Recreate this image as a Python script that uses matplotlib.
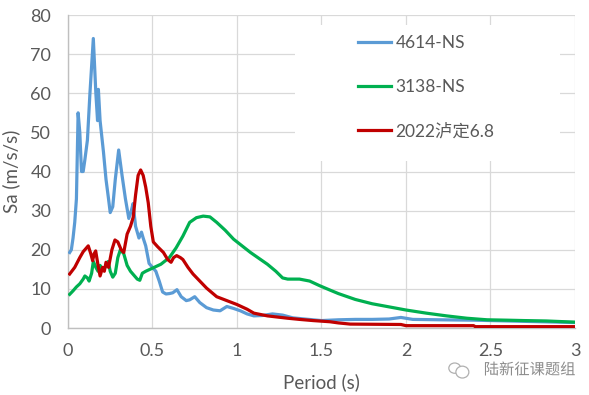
import matplotlib
matplotlib.use("Agg")
import matplotlib.pyplot as plt
import matplotlib.patheffects as pe
from matplotlib.patches import Rectangle, Ellipse

plt.rcParams['font.family'] = ['Lato', 'Noto Sans CJK SC', 'DejaVu Sans']

# 4614-NS
t_blue = [0.01, 0.02, 0.03, 0.04, 0.05, 0.06, 0.07, 0.08, 0.09, 0.10, 0.115, 0.13,
          0.15, 0.165, 0.175, 0.18, 0.19, 0.21, 0.225, 0.24, 0.25, 0.265, 0.28, 0.30,
          0.32, 0.34, 0.36, 0.375, 0.385, 0.40, 0.42, 0.435, 0.445, 0.46, 0.48, 0.50,
          0.52, 0.54, 0.56, 0.58, 0.60, 0.62, 0.645, 0.67, 0.70, 0.72, 0.75, 0.78,
          0.82, 0.86, 0.90, 0.94, 0.98, 1.02, 1.06, 1.10, 1.15, 1.21, 1.27, 1.33,
          1.40, 1.50, 1.60, 1.70, 1.80, 1.90, 1.97, 2.04, 2.20, 2.40, 2.60, 2.80, 3.00]
sa_blue = [19.3, 20, 23, 27, 33, 55, 50, 40, 40, 43, 48, 60,
           74, 60, 53, 61, 53, 45, 38, 33, 29.5, 31, 38, 45.5,
           39, 33, 28, 30, 31.8, 26, 23, 24.5, 23, 21, 16.5, 15.5,
           14.5, 12, 9.2, 8.7, 8.8, 9, 9.8, 8, 7, 7.2, 8, 6.5,
           5.2, 4.6, 4.4, 5.5, 5, 4.4, 3.6, 3.1, 3.2, 3.6, 3.3, 2.6,
           2.3, 1.9, 2.1, 2.2, 2.2, 2.3, 2.7, 2.2, 2.1, 2.0, 1.8, 1.6, 1.4]

# 3138-NS
t_green = [0.01, 0.03, 0.05, 0.07, 0.09, 0.10, 0.115, 0.125, 0.14, 0.15, 0.165, 0.178,
           0.19, 0.205, 0.22, 0.238, 0.25, 0.265, 0.28, 0.295, 0.31, 0.33, 0.35, 0.37,
           0.39, 0.41, 0.425, 0.44, 0.46, 0.50, 0.55, 0.60, 0.64, 0.68, 0.72, 0.76,
           0.80, 0.84, 0.88, 0.93, 0.98, 1.03, 1.08, 1.13, 1.18, 1.23, 1.27, 1.30,
           1.37, 1.43, 1.49, 1.55, 1.60, 1.70, 1.80, 1.90, 2.00, 2.12, 2.24, 2.36,
           2.48, 2.60, 2.70, 2.83, 3.00]
sa_green = [8.6, 9.5, 10.5, 11.3, 12.5, 13.3, 12.8, 12, 14, 17, 15.5, 14.5,
            16, 15, 15.5, 17, 14.5, 13, 14, 18, 20, 19, 16, 14.5,
            13.5, 12.5, 12.2, 14, 14.5, 15.3, 16.3, 18, 20.5, 23.5, 27, 28.2,
            28.6, 28.4, 27, 25, 22.7, 21, 19.3, 17.8, 16.3, 14.5, 12.8, 12.5,
            12.5, 12, 10.8, 9.7, 8.8, 7.3, 6.2, 5.4, 4.6, 3.8, 3.1, 2.5,
            2.1, 2.0, 1.9, 1.8, 1.5]

# 2022泸定6.8
t_red = [0.01, 0.04, 0.07, 0.09, 0.12, 0.135, 0.146, 0.155, 0.164, 0.18, 0.19, 0.205,
         0.215, 0.225, 0.24, 0.26, 0.278, 0.295, 0.315, 0.33, 0.35, 0.37, 0.386, 0.40,
         0.415, 0.43, 0.445, 0.46, 0.475, 0.49, 0.505, 0.53, 0.565, 0.59, 0.61, 0.625,
         0.643, 0.665, 0.68, 0.71, 0.74, 0.78, 0.82, 0.88, 0.94, 1.00, 1.06, 1.10,
         1.18, 1.30, 1.37, 1.45, 1.55, 1.60, 1.67, 1.97, 2.00, 2.40, 2.41, 3.00]
sa_red = [13.8, 15.5, 18, 19.5, 21, 19, 17.2, 19, 19.7, 15.5, 13.3, 15.5,
          14.5, 16.8, 15.5, 20, 22.5, 22, 20, 19.3, 24, 26, 28.3, 34,
          39, 40.4, 39, 36, 32, 26, 22, 20.8, 19.3, 17.5, 16.8, 18,
          18.5, 18, 17.5, 15.5, 13.8, 12, 10.2, 8, 7, 6, 4.8, 3.8,
          3.1, 2.5, 2.2, 1.9, 1.6, 1.3, 1.0, 0.9, 0.6, 0.6, 0.35, 0.35]

labels = ["4614-NS", "3138-NS", "2022泸定6.8"]
colors = ["#5b9bd5", "#00b050", "#c00000"]
x_ticks = [0, 0.5, 1, 1.5, 2, 2.5, 3]
x_tick_labels = ["0", "0.5", "1", "1.5", "2", "2.5", "3"]
y_ticks = [0, 10, 20, 30, 40, 50, 60, 70, 80]

fig = plt.figure(figsize=(5.89, 3.95), dpi=100)
ax = fig.add_axes([0.1154, 0.1696, 0.8608, 0.7924])

for t, sa, lab, col in zip([t_blue, t_green, t_red], [sa_blue, sa_green, sa_red], labels, colors):
    ax.plot(t, sa, color=col, lw=2.3, label=lab, zorder=3, solid_joinstyle='round')

ax.set_xlim(0, 3)
ax.set_ylim(0, 80)
ax.set_xticks(x_ticks)
ax.set_xticklabels(x_tick_labels)
ax.set_yticks(y_ticks)
ax.set_axisbelow(True)
ax.grid(True, color="#d9d9d9", lw=0.9)
ax.tick_params(length=0, labelsize=13, labelcolor="#595959")
ax.tick_params(axis="y", pad=12)
ax.tick_params(axis="x", pad=11)
for s in ["top", "right"]:
    ax.spines[s].set_visible(False)
for s in ["left", "bottom"]:
    ax.spines[s].set_color("#bfbfbf")
    ax.spines[s].set_linewidth(1.0)

ax.set_xlabel("Period (s)", fontsize=13.5, color="#595959")
ax.set_ylabel("Sa (m/s/s)", fontsize=13.5, color="#595959")
ax.xaxis.set_label_coords(0.5, -0.145)
ax.yaxis.set_label_coords(-0.095, 0.5)

# white legend area hiding the grid
ax.add_patch(Rectangle((0.448, 0.534), 0.522, 0.434, transform=ax.transAxes,
                       facecolor="white", edgecolor="none", zorder=1))
leg = ax.legend(loc="upper left", bbox_to_anchor=(0.572, 0.935), frameon=False,
                fontsize=12.5, handlelength=1.9, handletextpad=0.25,
                labelspacing=1.6, borderpad=0, borderaxespad=0)
for txt in leg.get_texts():
    txt.set_color("#595959")

# watermark with a small chat-bubble icon
fig.text(0.899, 0.063, "陆新征课题组", fontsize=11, color="#8c8c8c",
         ha="center", va="center",
         path_effects=[pe.withStroke(linewidth=2, foreground="white")])
fig.patches.append(Ellipse((0.772, 0.068), 0.020, 0.026, transform=fig.transFigure,
                           facecolor="white", edgecolor="#b0b0b0", lw=0.9))
fig.patches.append(Ellipse((0.785, 0.058), 0.022, 0.030, transform=fig.transFigure,
                           facecolor="white", edgecolor="#b0b0b0", lw=0.9))

fig.savefig("out.png", dpi=100)
